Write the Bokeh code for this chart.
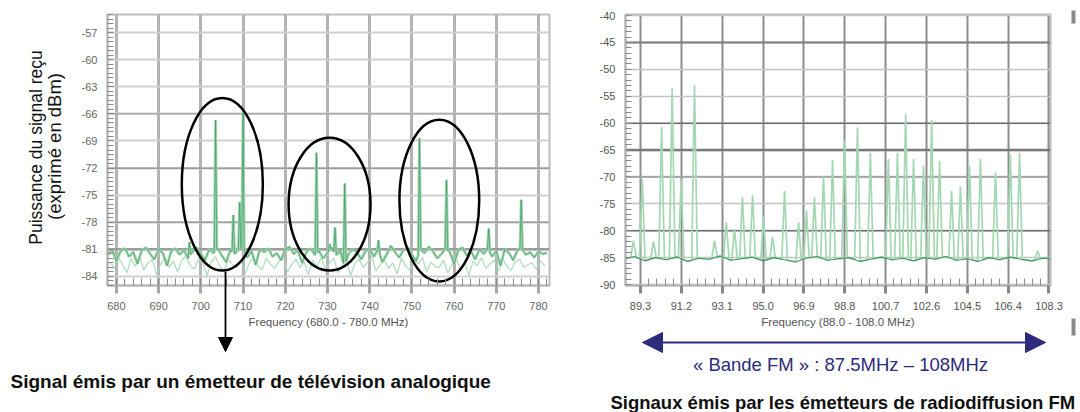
import numpy as np
from bokeh.plotting import figure
from bokeh.models import (FixedTicker, SingleIntervalTicker, Span, Label, Arrow,
                          NormalHead, Range1d)
from bokeh.layouts import row, column
from bokeh.embed import file_html
from bokeh.resources import INLINE

FONT = "Liberation Sans"

# ---------------- data : TV band (left) ----------------
tv_xticks = [680, 690, 700, 710, 720, 730, 740, 750, 760, 770, 780]
tv_yticks = [-57, -60, -63, -66, -69, -72, -75, -78, -81, -84]
tv_ytick_labels = ["-57", "-60", "-63", "-66", "-69", "-72", "-75", "-78", "-81", "-84"]

tv_floor_freq = list(range(678, 783))
tv_floor_dbm = [
    -81.6, -81.0, -82.3, -81.2, -80.9, -81.8, -81.3, -82.6, -81.1, -80.8,
    -81.5, -82.1, -81.0, -81.4, -82.8, -81.2, -80.9, -81.6, -81.1, -82.0,
    -81.3, -80.8, -81.5, -82.2, -81.0, -81.4, -80.9, -81.7, -82.4, -81.1,
    -81.5, -81.0, -80.8, -81.9, -81.2, -82.7, -81.0, -81.3, -80.9, -81.8,
    -81.4, -82.2, -81.0, -80.7, -81.5, -81.1, -82.5, -81.3, -80.9, -81.6,
    -81.2, -82.0, -81.4, -80.8, -81.7, -81.1, -82.9, -81.5, -81.0, -81.3,
    -82.1, -81.2, -80.9, -81.8, -81.0, -82.4, -81.6, -80.6, -81.3, -81.9,
    -81.1, -80.8, -81.6, -82.3, -81.0, -81.4, -80.7, -81.2, -82.0, -81.5,
    -80.9, -81.3, -82.6, -81.1, -80.8, -81.7, -81.2, -82.1, -81.0, -81.5,
    -80.9, -81.8, -81.2, -82.8, -81.0, -81.4, -82.2, -81.1, -80.9, -81.6,
    -81.3, -81.9, -81.2, -81.5, -81.4]

tv_hold_freq = [f + 0.5 for f in range(678, 782)]
tv_hold_dbm = [
    -82.4, -83.1, -81.9, -82.7, -83.6, -82.0, -82.9, -81.8, -83.3, -82.5,
    -82.1, -83.8, -82.6, -81.9, -83.0, -82.3, -83.5, -82.2, -81.7, -82.8,
    -83.2, -82.0, -82.6, -83.9, -82.4, -81.8, -82.9, -83.4, -82.1, -82.7,
    -83.0, -82.2, -83.7, -82.5, -81.9, -82.8, -83.3, -82.0, -82.6, -83.1,
    -82.3, -81.8, -83.5, -82.7, -82.1, -83.0, -82.4, -83.8, -82.2, -82.9,
    -81.9, -83.2, -82.5, -82.0, -83.6, -82.8, -82.3, -83.9, -82.6, -82.1,
    -83.0, -82.4, -81.8, -83.4, -82.7, -82.2, -83.1, -82.5, -83.7, -82.0,
    -82.8, -83.3, -82.1, -82.6, -81.9, -83.5, -82.4, -82.9, -83.0, -82.2,
    -83.6, -82.7, -82.0, -83.2, -82.5, -83.9, -82.3, -82.8, -81.9, -83.1,
    -82.6, -82.2, -83.4, -82.0, -82.9, -83.3, -82.4, -82.1, -83.0, -82.7,
    -82.5, -83.2, -82.3, -82.8]

tv_peak_freq = [697.3, 703.5, 707.7, 709.2, 710.0, 727.4, 730.5, 731.8, 734.1,
                742.1, 751.8, 758.2, 768.2, 775.9]
tv_peak_dbm = [-80.2, -66.7, -77.2, -75.8, -65.9, -70.3, -80.4, -78.6, -73.7,
               -80.0, -68.7, -73.3, -78.7, -75.5]

# ---------------- data : FM band (right) ----------------
fm_xticks = [89.3, 91.2, 93.1, 95.0, 96.9, 98.8, 100.7, 102.6, 104.5, 106.4, 108.3]
fm_xtick_labels = ["89.3", "91.2", "93.1", "95.0", "96.9", "98.8", "100.7",
                   "102.6", "104.5", "106.4", "108.3"]
fm_yticks = [-40, -45, -50, -55, -60, -65, -70, -75, -80, -85, -90]
fm_ytick_labels = ["-40", "-45", "-50", "-55", "-60", "-65", "-70", "-75",
                   "-80", "-85", "-90"]

fm_floor_freq = [88.5 + 0.5 * i for i in range(41)]
fm_floor_dbm = [
    -85.3, -84.8, -85.6, -85.0, -85.4, -84.9, -85.7, -85.1, -85.3, -84.7,
    -85.5, -85.2, -84.9, -85.6, -85.0, -85.4, -85.8, -85.1, -84.8, -85.5,
    -85.2, -85.0, -85.7, -85.3, -84.9, -85.4, -85.1, -85.6, -85.0, -85.3,
    -84.8, -85.5, -85.2, -85.7, -85.0, -85.4, -84.9, -85.3, -85.6, -85.1, -85.2]

fm_peak_freq = [88.97, 89.38, 89.90, 90.28, 90.77, 91.19, 91.81, 92.74, 93.29,
                93.67, 94.04, 94.51, 95.02, 95.44, 96.00, 96.65, 97.02, 97.39,
                97.81, 98.23, 98.79, 99.39, 99.99, 100.83, 101.25, 101.63,
                102.00, 102.46, 102.84, 103.21, 103.77, 104.18, 104.60, 105.11,
                105.81, 106.50, 106.93, 107.77]
fm_peak_dbm = [-81.9, -70.4, -82.0, -60.7, -53.5, -70.4, -52.9, -81.9, -78.4,
               -79.7, -73.8, -73.4, -77.3, -81.2, -72.6, -78.4, -76.3, -73.7,
               -69.9, -66.9, -63.1, -60.8, -65.5, -66.6, -65.5, -58.3,
               -66.6, -67.9, -59.4, -67.1, -72.6, -71.8, -68.0, -66.6,
               -69.2, -65.8, -65.5, -83.7]


def merge_trace(fx, fy, px, py, hw):
    fx = np.asarray(fx, float)
    fy = np.asarray(fy, float)
    keep = np.ones(len(fx), bool)
    for f in px:
        keep &= np.abs(fx - f) > hw * 1.2
    xs = list(fx[keep])
    ys = list(fy[keep])
    for f, v in zip(px, py):
        xs += [f - hw, f, f + hw]
        ys += [float(np.interp(f - hw, fx, fy)), v, float(np.interp(f + hw, fx, fy))]
    order = np.argsort(xs, kind="stable")
    return np.array(xs)[order], np.array(ys)[order]


PALE = "#a3d8b2"
DARK = "#3f9863"
NAVY = "#2d2b7c"


def style_axes(p, label_color):
    for ax in (p.xaxis, p.yaxis):
        ax.axis_line_color = "#b5b5b5"
        ax.axis_line_width = 2
        ax.major_label_text_font = FONT
        ax.major_label_text_font_size = "11px"
        ax.major_label_text_color = label_color
        ax.minor_tick_line_color = "#8a8a8a"
        ax.minor_tick_line_width = 1
        ax.axis_label_text_font = FONT
        ax.axis_label_text_font_style = "normal"
        ax.axis_label_text_font_size = "11.5px"
        ax.axis_label_text_color = "#555555"
    p.xaxis.major_tick_in = 0
    p.xaxis.major_tick_out = 8
    p.xaxis.major_tick_line_color = "#a8a8a8"
    p.xaxis.major_tick_line_width = 3
    p.xaxis.minor_tick_in = 7
    p.xaxis.minor_tick_out = 0
    p.xaxis.major_label_standoff = 8
    p.xaxis.axis_label_standoff = 3
    p.yaxis.major_tick_in = 0
    p.yaxis.major_tick_out = 0
    p.yaxis.minor_tick_in = 6
    p.yaxis.minor_tick_out = 0
    p.yaxis.major_label_standoff = 10
    p.outline_line_color = "#bdbdbd"
    p.outline_line_width = 2
    p.background_fill_color = "white"
    p.border_fill_color = "white"


# ================= LEFT : TV =================
p1 = figure(width=575, height=412, x_range=Range1d(677.9, 782.6),
            y_range=Range1d(-85.0, -55.0), output_backend="svg",
            toolbar_location=None, min_border_left=107, min_border_right=26,
            min_border_top=14, min_border_bottom=127)
p1.xaxis.ticker = SingleIntervalTicker(interval=10, num_minor_ticks=5)
p1.yaxis.ticker = SingleIntervalTicker(interval=3, num_minor_ticks=6)
p1.yaxis.major_label_overrides = {t: s for t, s in zip(tv_yticks, tv_ytick_labels)}
p1.xaxis.major_label_overrides = {t: str(t) for t in tv_xticks}
p1.xaxis.axis_label = "Frequency (680.0 - 780.0 MHz)"
style_axes(p1, "#666666")
p1.xgrid.grid_line_color = "#b3b3b3"
p1.xgrid.grid_line_width = 3
p1.ygrid.grid_line_color = "#cfcfcf"
p1.ygrid.grid_line_width = 2
for yv, col, w in [(-72, "#8a8a8a", 1.3), (-78, "#9a9a9a", 1.3), (-81, "#9c9c9c", 2.5),
                   (-66, "#a0a0a0", 1.2)]:
    p1.add_layout(Span(location=yv, dimension="width", line_color=col,
                       line_width=w, level="underlay"))

p1.line(tv_hold_freq, tv_hold_dbm, line_color=PALE, line_width=1.3, line_alpha=0.85)
tx, ty = merge_trace(tv_floor_freq, tv_floor_dbm, tv_peak_freq, tv_peak_dbm, 0.3)
p1.line(tx, ty, line_color=PALE, line_width=2.8)
p1.line(tx, ty, line_color=DARK, line_width=0.8, line_alpha=0.9)

p1.ellipse(x=[705.1, 730.5, 756.5], y=[-73.8, -76.0, -75.6],
           width=[19.2, 19.4, 18.9], height=[19.1, 14.7, 17.9],
           fill_color=None, line_color="black", line_width=2.5)

# ================= RIGHT : FM =================
p2 = figure(width=505, height=412, x_range=Range1d(88.60, 108.37),
            y_range=Range1d(-90.18, -39.8), output_backend="svg",
            toolbar_location=None, min_border_left=50, min_border_right=30,
            min_border_top=14, min_border_bottom=125)
fm_minor = []
for a, b in zip(fm_xticks[:-1], fm_xticks[1:]):
    fm_minor += list(np.linspace(a, b, 6)[1:-1])
p2.xaxis.ticker = FixedTicker(ticks=fm_xticks, minor_ticks=fm_minor)
p2.yaxis.ticker = SingleIntervalTicker(interval=5, num_minor_ticks=5)
p2.xaxis.major_label_overrides = {t: s for t, s in zip(fm_xticks, fm_xtick_labels)}
p2.yaxis.major_label_overrides = {t: s for t, s in zip(fm_yticks, fm_ytick_labels)}
p2.xaxis.axis_label = "Frequency (88.0 - 108.0 MHz)"
style_axes(p2, "#555555")
p2.xaxis.major_tick_line_color = "#888888"
p2.xgrid.grid_line_color = "#8c8c8c"
p2.xgrid.grid_line_width = 2
p2.ygrid.grid_line_color = "#c4c4c4"
p2.ygrid.grid_line_width = 1.5
for yv, col, w in [(-45, "#7a7a7a", 2), (-60, "#6e6e6e", 1.5), (-65, "#7a7a7a", 2.5),
                   (-80, "#6e6e6e", 1.5), (-70, "#9a9a9a", 1.5)]:
    p2.add_layout(Span(location=yv, dimension="width", line_color=col,
                       line_width=w, level="underlay"))

fx, fy = merge_trace(fm_floor_freq, fm_floor_dbm, fm_peak_freq, fm_peak_dbm, 0.13)
p2.line(fx, fy, line_color=PALE, line_width=1.7)
p2.line(fm_floor_freq, fm_floor_dbm, line_color=DARK, line_width=1.1)

# ================= transparent overlay for free annotations =================
ov = figure(width=1080, height=412, x_range=Range1d(0, 1080), y_range=Range1d(412, 0),
            x_axis_type=None, y_axis_type=None, output_backend="svg",
            toolbar_location=None, min_border=0, outline_line_color=None,
            background_fill_color=None, border_fill_color=None)
ov.grid.visible = False
ov.margin = (-412, 0, 0, 0)

ov.add_layout(Label(x=35, y=147, text="Puissance du signal reçu", angle=np.pi / 2,
                    text_align="center", text_baseline="middle", text_font=FONT,
                    text_font_size="17.5px", text_color="#111111"))
ov.add_layout(Label(x=54, y=146, text="(exprimé en dBm)", angle=np.pi / 2,
                    text_align="center", text_baseline="middle", text_font=FONT,
                    text_font_size="18.5px", text_color="#111111"))
ov.add_layout(Arrow(end=NormalHead(size=14, fill_color="black", line_color="black"),
                    x_start=225, y_start=271, x_end=225, y_end=351,
                    line_color="black", line_width=1.8))
ov.add_layout(Label(x=10, y=381,
                    text="Signal émis par un émetteur de télévision analogique",
                    text_align="left", text_baseline="middle", text_font=FONT,
                    text_font_size="19px", text_font_style="bold", text_color="#111111"))
ov.add_layout(Arrow(start=NormalHead(size=20, fill_color=NAVY, line_color=NAVY),
                    end=NormalHead(size=20, fill_color=NAVY, line_color=NAVY),
                    x_start=642, y_start=342, x_end=1045, y_end=342,
                    line_color=NAVY, line_width=2))
ov.add_layout(Label(x=840, y=364, text="« Bande FM » : 87.5MHz – 108MHz",
                    text_align="center", text_baseline="middle", text_font=FONT,
                    text_font_size="18.5px", text_color=NAVY))
ov.add_layout(Label(x=610, y=402,
                    text="Signaux émis par les émetteurs de radiodiffusion FM",
                    text_align="left", text_baseline="middle", text_font=FONT,
                    text_font_size="18.5px", text_font_style="bold", text_color="#111111"))
ov.quad(left=[1071, 1071], right=[1075, 1075], top=[10, 318], bottom=[23, 335],
        fill_color="#8a8a8a", line_color=None)

layout = column(row(p1, p2), ov)
open("out.html", "w").write(file_html(layout, INLINE))
